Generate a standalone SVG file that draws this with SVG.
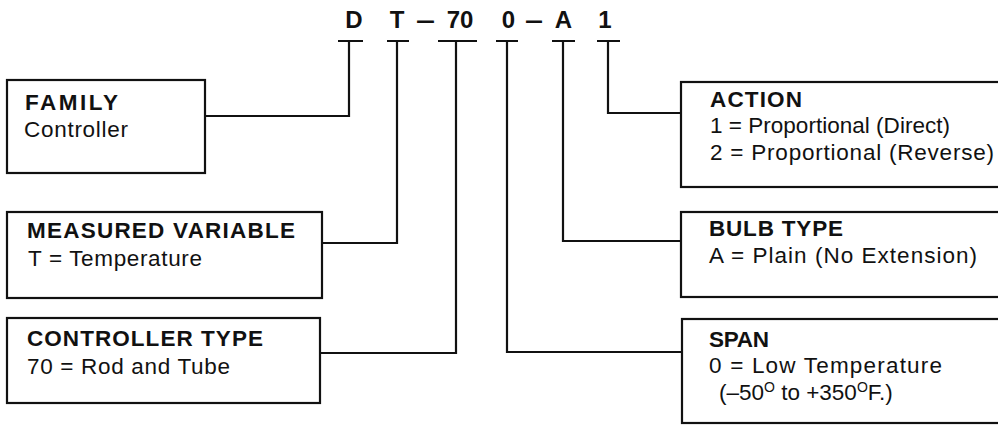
<svg xmlns="http://www.w3.org/2000/svg" width="998" height="425" viewBox="0 0 998 425">
<style>
.box{fill:#fff;stroke:#111;stroke-width:2.2}
.ln{fill:none;stroke:#111;stroke-width:2.2}
.h{font-family:"Liberation Sans",Arial,Helvetica,sans-serif;font-weight:bold;font-size:22.5px;fill:#111}
.t{font-family:"Liberation Sans",Arial,Helvetica,sans-serif;font-size:22.5px;fill:#111}
.code{font-family:"Liberation Sans",Arial,Helvetica,sans-serif;font-weight:bold;font-size:24px;fill:#111}
</style>
<rect width="998" height="425" fill="#fff"/>
<g id="code">
<text class="code" y="28"><tspan x="354" text-anchor="middle">D</tspan><tspan x="397" text-anchor="middle">T</tspan><tspan x="460" text-anchor="middle">70</tspan><tspan x="508.5" text-anchor="middle">0</tspan><tspan x="563.5" text-anchor="middle">A</tspan><tspan x="605" text-anchor="middle">1</tspan></text>
<text class="code" x="416" y="28" textLength="19" lengthAdjust="spacingAndGlyphs">–</text>
<text class="code" x="525" y="28" textLength="18" lengthAdjust="spacingAndGlyphs">–</text>
</g>
<g id="connectors">
<path class="ln" d="M338 41H363M387 41H409M438 41H477M496 41H518M552 41H575M597 41H620"/>
<path class="ln" d="M349 41V116H205"/>
<path class="ln" d="M397 41V243H322"/>
<path class="ln" d="M456 41V353H320"/>
<path class="ln" d="M507 41V352H682"/>
<path class="ln" d="M563 41V241H681"/>
<path class="ln" d="M608 41V113H681"/>
</g>
<g id="family">
<rect class="box" x="7" y="80" width="198" height="93"/>
<text class="h" x="25" y="110" textLength="93" lengthAdjust="spacing">FAMILY</text>
<text class="t" x="24" y="137" textLength="104" lengthAdjust="spacing">Controller</text>
</g>
<g id="measured-variable">
<rect class="box" x="7" y="212" width="315" height="86"/>
<text class="h" x="27" y="238" textLength="268" lengthAdjust="spacing">MEASURED VARIABLE</text>
<text class="t" x="28" y="266" textLength="174" lengthAdjust="spacing">T = Temperature</text>
</g>
<g id="controller-type">
<rect class="box" x="7" y="318" width="313" height="85"/>
<text class="h" x="27" y="346" textLength="236" lengthAdjust="spacing">CONTROLLER TYPE</text>
<text class="t" x="27" y="374" textLength="203" lengthAdjust="spacing">70 = Rod and Tube</text>
</g>
<g id="action">
<rect class="box" x="681" y="82" width="330" height="105"/>
<text class="h" x="710" y="107" textLength="92" lengthAdjust="spacing">ACTION</text>
<text class="t" x="710" y="133" textLength="240" lengthAdjust="spacing">1 = Proportional (Direct)</text>
<text class="t" x="710" y="160" textLength="284" lengthAdjust="spacing">2 = Proportional (Reverse)</text>
</g>
<g id="bulb-type">
<rect class="box" x="681" y="212" width="330" height="85"/>
<text class="h" x="709" y="236" textLength="134" lengthAdjust="spacing">BULB TYPE</text>
<text class="t" x="709" y="263" textLength="268" lengthAdjust="spacing">A = Plain (No Extension)</text>
</g>
<g id="span">
<rect class="box" x="682" y="319" width="330" height="104"/>
<text class="h" x="709" y="347" textLength="60" lengthAdjust="spacing">SPAN</text>
<text class="t" x="709" y="373" textLength="233" lengthAdjust="spacing">0 = Low Temperature</text>
<text class="t" x="719" y="400" font-size="22">(–50<tspan font-size="14" dy="-8">O</tspan><tspan dy="8"> to +350</tspan><tspan font-size="14" dy="-8">O</tspan><tspan dy="8">F.)</tspan></text>
</g>
</svg>
